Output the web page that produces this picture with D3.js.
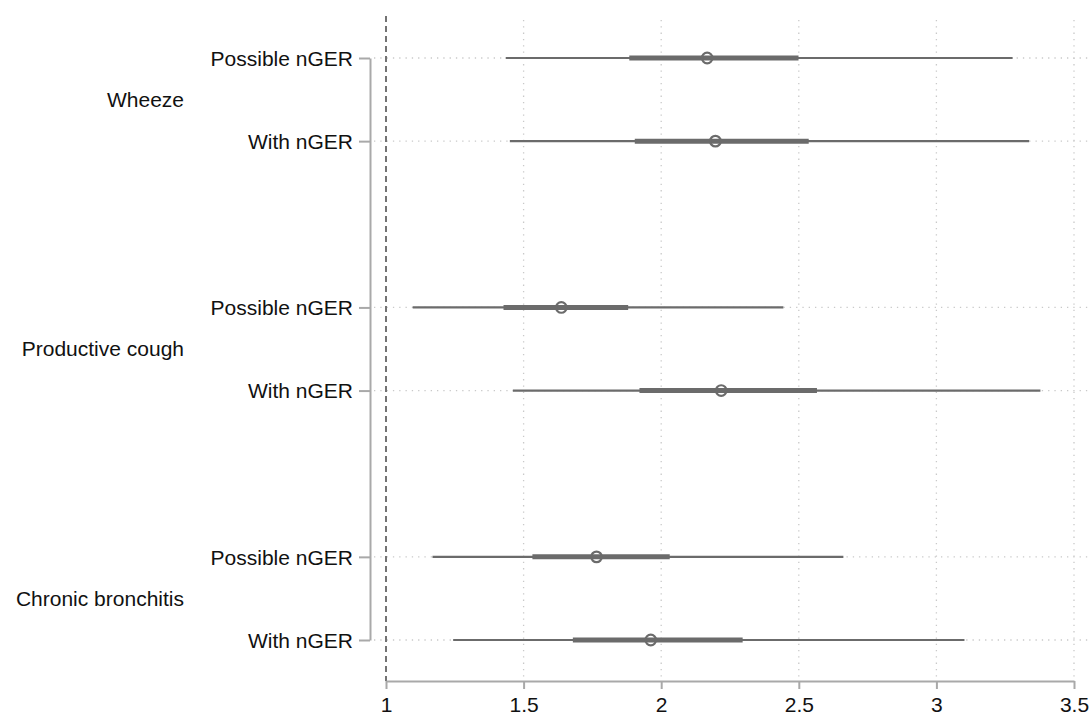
<!DOCTYPE html>
<html>
<head>
<meta charset="utf-8">
<script src="https://cdn.jsdelivr.net/npm/d3@7"></script>
<style>
  html, body { margin: 0; padding: 0; background: #fff; }
  svg { display: block; font-family: "Liberation Sans", Arial, sans-serif; }
</style>
</head>
<body>
<svg id="chart" width="1090" height="719"></svg>
<script>
// Outcome groups and the two exposure rows shown within each group
const groups = ["Wheeze", "Productive cough", "Chronic bronchitis"];
const rowLabels = ["Possible nGER", "With nGER"];

// Point estimates, one per row (group order, then row order)
const estimates = [2.167, 2.197, 1.637, 2.218, 1.765, 1.962];
// Inner (thick) interval
const innerLow  = [1.884, 1.904, 1.427, 1.921, 1.532, 1.679];
const innerHigh = [2.499, 2.536, 1.880, 2.566, 2.031, 2.296];
// Outer (thin) interval
const outerLow  = [1.435, 1.450, 1.097, 1.461, 1.169, 1.244];
const outerHigh = [3.277, 3.337, 2.444, 3.378, 2.662, 3.102];

// x-axis ticks
const xTicks = [1, 1.5, 2, 2.5, 3, 3.5];

const rows = [];
groups.forEach((g, gi) => {
  rowLabels.forEach((r, ri) => {
    const i = gi * rowLabels.length + ri;
    rows.push({
      group: g, label: r, slot: gi * 3 + ri,
      est: estimates[i], lo1: innerLow[i], hi1: innerHigh[i],
      lo2: outerLow[i], hi2: outerHigh[i]
    });
  });
});

const svg = d3.select("#chart");
const W = 1090;

const x = d3.scaleLinear().domain([1, 3.5]).range([386, 1074]);
// each group occupies two slots plus an empty slot as spacing
const y = d3.scaleLinear().domain([0, 7]).range([58, 640]);

const axisY = 681;
const leftAxisX = 370;

const lineCol = "#6b6b6b";
const gridCol = "#c9c9c9";
const axisCol = "#a9a9a9";

// vertical dotted gridlines
svg.append("g").selectAll("line")
  .data(xTicks.filter(d => d !== 1))
  .join("line")
  .attr("x1", d => x(d)).attr("x2", d => x(d))
  .attr("y1", 20).attr("y2", axisY)
  .attr("stroke", gridCol).attr("stroke-width", 1.3)
  .attr("stroke-dasharray", "1.3,5");

// horizontal dotted gridlines at each row
svg.append("g").selectAll("line")
  .data(rows)
  .join("line")
  .attr("x1", leftAxisX + 4).attr("x2", W)
  .attr("y1", d => y(d.slot)).attr("y2", d => y(d.slot))
  .attr("stroke", gridCol).attr("stroke-width", 1.3)
  .attr("stroke-dasharray", "1.3,5");

// reference line at 1
svg.append("line")
  .attr("x1", x(1)).attr("x2", x(1))
  .attr("y1", 16).attr("y2", axisY)
  .attr("stroke", "#737373").attr("stroke-width", 2)
  .attr("stroke-dasharray", "6,4");

// bottom axis
const xAxis = d3.axisBottom(x).tickValues(xTicks).tickSize(8)
  .tickFormat(d3.format("~g")).tickSizeOuter(0);
const gx = svg.append("g").attr("transform", `translate(0,${axisY})`).call(xAxis);
gx.select(".domain").attr("stroke", axisCol).attr("stroke-width", 2);
gx.selectAll(".tick line").attr("stroke", axisCol).attr("stroke-width", 2);
gx.selectAll(".tick text")
  .attr("fill", "#111").attr("font-size", 21)
  .attr("font-family", "'Liberation Sans', Arial, sans-serif")
  .attr("dy", null).attr("y", 31);

// left axis: vertical line with row ticks
const yAxis = d3.axisLeft(y).tickValues(rows.map(d => d.slot))
  .tickSize(11).tickSizeOuter(0).tickFormat((d, i) => rows[i].label);
const gy = svg.append("g").attr("transform", `translate(${leftAxisX},0)`).call(yAxis);
gy.select(".domain").attr("stroke", axisCol).attr("stroke-width", 2);
gy.selectAll(".tick line").attr("stroke", axisCol).attr("stroke-width", 2);
gy.selectAll(".tick text")
  .attr("fill", "#111").attr("font-size", 21)
  .attr("font-family", "'Liberation Sans', Arial, sans-serif")
  .attr("x", -17).attr("dy", "0.35em");

// group labels centred between their two rows
svg.append("g").selectAll("text")
  .data(groups)
  .join("text")
  .attr("x", 184)
  .attr("y", (d, gi) => (y(gi * 3) + y(gi * 3 + 1)) / 2)
  .attr("dy", "0.35em")
  .attr("text-anchor", "end")
  .attr("fill", "#111").attr("font-size", 21)
  .text(d => d);

// intervals and estimates
const marks = svg.append("g");
marks.selectAll("line.outer")
  .data(rows).join("line").attr("class", "outer")
  .attr("x1", d => x(d.lo2)).attr("x2", d => x(d.hi2))
  .attr("y1", d => y(d.slot)).attr("y2", d => y(d.slot))
  .attr("stroke", lineCol).attr("stroke-width", 2.2);

marks.selectAll("line.inner")
  .data(rows).join("line").attr("class", "inner")
  .attr("x1", d => x(d.lo1)).attr("x2", d => x(d.hi1))
  .attr("y1", d => y(d.slot)).attr("y2", d => y(d.slot))
  .attr("stroke", lineCol).attr("stroke-width", 5);

marks.selectAll("circle")
  .data(rows).join("circle")
  .attr("cx", d => x(d.est)).attr("cy", d => y(d.slot))
  .attr("r", 5.3)
  .attr("fill", "none")
  .attr("stroke", lineCol).attr("stroke-width", 2.2);
</script>
</body>
</html>
